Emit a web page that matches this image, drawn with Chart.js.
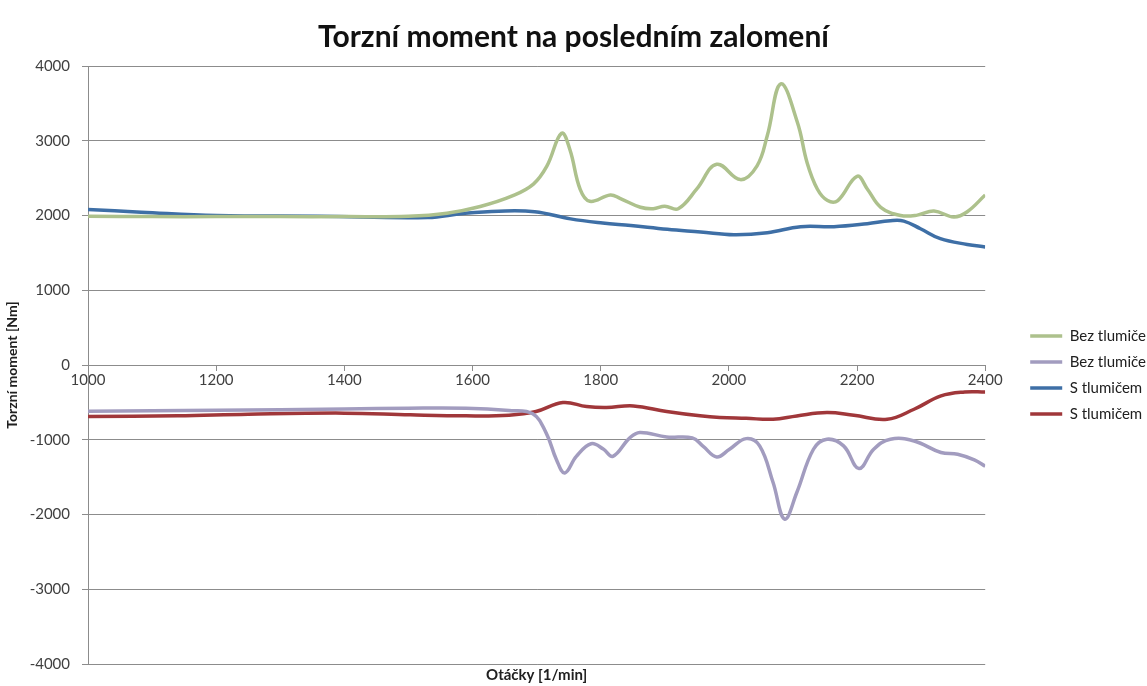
<!DOCTYPE html>
<html>
<head>
<meta charset="utf-8">
<title>Torzní moment</title>
<script src="https://cdn.jsdelivr.net/npm/chart.js@4.4.1/dist/chart.umd.min.js"></script>
<style>
  html, body { margin: 0; padding: 0; background: #fff; }
  #wrap { width: 1147px; height: 686px; }
</style>
</head>
<body>
<div id="wrap"><canvas id="torque"></canvas></div>
<script>
// Bez tlumiče - kladná amplituda
const greenRpm = [1000, 1100, 1200, 1300, 1400, 1500, 1560, 1612, 1663, 1695, 1716, 1739, 1752, 1768, 1783, 1815, 1830, 1862, 1882, 1900, 1921, 1950, 1981, 2018, 2044, 2060, 2081, 2107, 2122, 2138, 2154, 2170, 2200, 2216, 2237, 2268, 2294, 2320, 2351, 2372, 2400];
const greenVals = [1990, 1985, 1985, 1985, 1985, 1990, 2030, 2120, 2265, 2420, 2660, 3100, 2880, 2350, 2190, 2275, 2230, 2110, 2090, 2125, 2090, 2355, 2685, 2480, 2665, 3070, 3760, 3245, 2710, 2355, 2200, 2200, 2525, 2355, 2110, 2000, 2005, 2060, 1980, 2050, 2275];

// Bez tlumiče - záporná amplituda
const purpleRpm = [1000, 1200, 1400, 1500, 1590, 1657, 1694, 1715, 1731, 1744, 1762, 1785, 1804, 1819, 1845, 1861, 1903, 1943, 1960, 1981, 2001, 2027, 2048, 2069, 2087, 2106, 2132, 2153, 2179, 2203, 2226, 2252, 2289, 2331, 2357, 2383, 2400];
const purpleVals = [-620, -605, -590, -578, -578, -609, -653, -911, -1267, -1444, -1222, -1053, -1124, -1222, -978, -902, -964, -975, -1089, -1230, -1127, -985, -1082, -1572, -2062, -1706, -1127, -993, -1082, -1385, -1127, -993, -1016, -1171, -1194, -1270, -1355];

// S tlumičem - kladná amplituda
const blueRpm = [1000, 1083, 1200, 1362, 1530, 1585, 1641, 1697, 1753, 1803, 1847, 1904, 1956, 2008, 2060, 2112, 2164, 2216, 2252, 2273, 2299, 2330, 2372, 2400];
const blueVals = [2080, 2045, 2000, 1990, 1973, 2027, 2058, 2050, 1955, 1900, 1866, 1815, 1780, 1743, 1770, 1850, 1850, 1890, 1930, 1925, 1823, 1690, 1613, 1580];

// S tlumičem - záporná amplituda
const redRpm = [1000, 1140, 1250, 1400, 1503, 1590, 1657, 1699, 1741, 1778, 1809, 1851, 1903, 1955, 1986, 2027, 2069, 2106, 2153, 2195, 2247, 2289, 2331, 2368, 2400];
const redVals = [-689, -680, -658, -644, -667, -680, -671, -622, -502, -556, -569, -547, -622, -680, -702, -713, -726, -681, -637, -673, -726, -592, -414, -361, -361];

const seriesLabels = ["Bez tlumiče", "Bez tlumiče", "S tlumičem", "S tlumičem"];
const yTicks = [-4000, -3000, -2000, -1000, 0, 1000, 2000, 3000, 4000];
const xTicks = [1000, 1200, 1400, 1600, 1800, 2000, 2200, 2400];

const toPoints = (xs, ys) => xs.map((x, i) => ({ x: x, y: ys[i] }));

const line = (label, xs, ys, color) => ({
  label: label,
  data: toPoints(xs, ys),
  borderColor: color,
  backgroundColor: color,
  borderWidth: 3.5,
  pointRadius: 0,
  tension: 0.4,
  fill: false
});

const FONT = "Lato, 'Open Sans', sans-serif";
const gridGray = "#8c8c8c";
const plain = v => String(v);

// legendu posune doprava a dolů, nadpis vycentruje na celé plátno
const layoutTweaks = {
  id: "layoutTweaks",
  afterLayout(chart) {
    const lg = chart.legend;
    if (lg) {
      const w = lg.width;
      lg.left = chart.chartArea.right + 34;
      lg.right = lg.left + w;
      lg.top += 32;
      lg.bottom += 32;
    }
    const tb = chart.titleBlock;
    if (tb) {
      tb.left = 0;
      tb.right = chart.width;
      tb.width = chart.width;
    }
  }
};

new Chart(document.getElementById("torque"), {
  type: "line",
  data: {
    datasets: [
      line(seriesLabels[0], greenRpm, greenVals, "#adc18c"),
      line(seriesLabels[1], purpleRpm, purpleVals, "#a29cbf"),
      line(seriesLabels[2], blueRpm, blueVals, "#3e6fa6"),
      line(seriesLabels[3], redRpm, redVals, "#a0373a")
    ]
  },
  options: {
    responsive: true,
    maintainAspectRatio: false,
    animation: false,
    layout: { padding: { left: 0, right: 25, top: 0, bottom: 0 } },
    scales: {
      x: {
        type: "linear",
        position: { y: 0 },
        min: 1000,
        max: 2400,
        afterBuildTicks: s => { s.ticks = xTicks.map(v => ({ value: v })); },
        ticks: { color: "#404040", font: { family: FONT, size: 15 }, padding: 1, maxRotation: 0, callback: plain },
        grid: { drawOnChartArea: false, drawTicks: true, tickLength: 5, color: gridGray },
        border: { color: gridGray, width: 1 }
      },
      y: {
        min: -4000,
        max: 4000,
        afterBuildTicks: s => { s.ticks = yTicks.map(v => ({ value: v })); },
        afterFit: s => { s.width = 88; },
        ticks: { color: "#404040", font: { family: FONT, size: 15 }, padding: 12, callback: plain },
        grid: { color: gridGray, lineWidth: 1, tickLength: 6 },
        border: { color: gridGray, width: 1 },
        title: {
          display: true,
          text: "Torzní moment [Nm]",
          color: "#202020",
          font: { family: FONT, size: 14, weight: "bold" },
          padding: { top: 4, bottom: 0 }
        }
      }
    },
    plugins: {
      title: {
        display: true,
        text: "Torzní moment na posledním zalomení",
        color: "#111",
        font: { family: FONT, size: 30, weight: "bold" },
        padding: { top: 19, bottom: 11 }
      },
      subtitle: {
        display: true,
        position: "bottom",
        fullSize: false,
        text: "Otáčky [1/min]",
        color: "#202020",
        font: { family: FONT, size: 15, weight: "bold" },
        padding: { top: 2, bottom: 2 }
      },
      legend: {
        position: "right",
        labels: {
          color: "#202020",
          font: { family: FONT, size: 15 },
          usePointStyle: true,
          pointStyle: "line",
          pointStyleWidth: 32,
          padding: 11
        }
      },
      tooltip: { enabled: false }
    }
  },
  plugins: [layoutTweaks]
});
</script>
</body>
</html>
